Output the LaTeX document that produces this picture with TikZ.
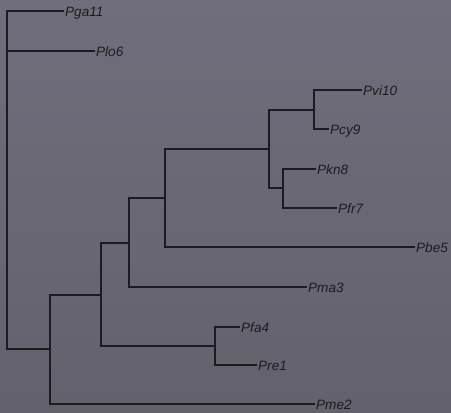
\documentclass[tikz,border=0pt]{standalone}
\usepackage{fontspec}
\setmainfont{Liberation Sans}
\definecolor{bgtop}{RGB}{112,110,124}
\definecolor{bgbot}{RGB}{98,97,108}
\definecolor{branch}{RGB}{28,28,32}
\tikzset{
  edge/.style={draw=branch, line width=1.3bp},
  leaf/.style={anchor=west, font=\fontsize{13.6}{14}\selectfont\itshape, text=branch,
    text height=10bp, text depth=0bp, inner xsep=1bp, inner ysep=0bp}
}
\begin{document}
\begin{tikzpicture}[x=1bp,y=-1bp]
  % backdrop
  \shade[top color=bgtop, bottom color=bgbot] (0,0) rectangle (451,412);
  \useasboundingbox (0,0) rectangle (451,412);

  % internal nodes (vertical bar x, centre y)
  \coordinate (root) at (7,180);
  \coordinate (nA) at (50,349);
  \coordinate (nB) at (101,295);
  \coordinate (nC) at (215,346);
  \coordinate (nD) at (129,243);
  \coordinate (nE) at (165,198);
  \coordinate (nF) at (269,149);
  \coordinate (nG) at (314,110);
  \coordinate (nH) at (283,188);

  % leaves
  \node[leaf] (pga) at (64,11) {Pga11};
  \node[leaf] (plo) at (95,51) {Plo6};
  \node[leaf] (pvi) at (362,90) {Pvi10};
  \node[leaf] (pcy) at (329,129) {Pcy9};
  \node[leaf] (pkn) at (316,169) {Pkn8};
  \node[leaf] (pfr) at (337,208) {Pfr7};
  \node[leaf] (pbe) at (415,247) {Pbe5};
  \node[leaf] (pma) at (307,287) {Pma3};
  \node[leaf] (pfa) at (240,327) {Pfa4};
  \node[leaf] (pre) at (257,365) {Pre1};
  \node[leaf] (pme) at (315,404) {Pme2};

  % branches
  \draw[edge] (root) |- (pga.west);
  \draw[edge] (root) |- (plo.west);
  \draw[edge] (root) |- (nA);
  \draw[edge] (nA) |- (nB);
  \draw[edge] (nA) |- (pme.west);
  \draw[edge] (nB) |- (nD);
  \draw[edge] (nB) |- (nC);
  \draw[edge] (nC) |- (pfa.west);
  \draw[edge] (nC) |- (pre.west);
  \draw[edge] (nD) |- (nE);
  \draw[edge] (nD) |- (pma.west);
  \draw[edge] (nE) |- (nF);
  \draw[edge] (nE) |- (pbe.west);
  \draw[edge] (nF) |- (nG);
  \draw[edge] (nF) |- (nH);
  \draw[edge] (nG) |- (pvi.west);
  \draw[edge] (nG) |- (pcy.west);
  \draw[edge] (nH) |- (pkn.west);
  \draw[edge] (nH) |- (pfr.west);
\end{tikzpicture}
\end{document}
